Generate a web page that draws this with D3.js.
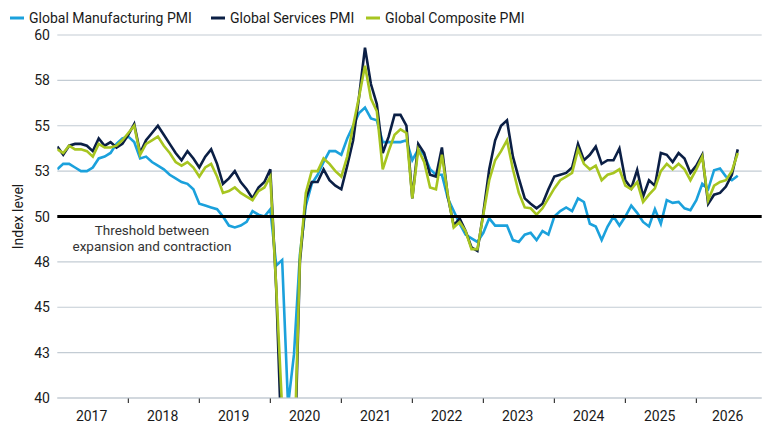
<!DOCTYPE html>
<html>
<head>
<meta charset="utf-8">
<script src="https://cdn.jsdelivr.net/npm/d3@7"></script>
<style>
  body { margin: 0; background: #fff; }
  text { font-family: Roboto, "Liberation Sans", sans-serif; fill: #1a1a1a; }
</style>
</head>
<body>
<svg id="chart" width="780" height="439"></svg>
<script>
// monthly values, Jan 2017 onwards
const manufacturing = [
  52.6,52.9,52.9,52.7,52.5,52.5,52.7,53.2,53.3,53.5,54.0,54.3,
  54.4,54.1,53.2,53.3,53.0,52.8,52.6,52.3,52.1,51.9,51.8,51.5,
  50.7,50.6,50.5,50.4,50.0,49.5,49.4,49.5,49.7,50.3,50.1,50.0,
  50.4,47.3,47.6,39.6,42.4,47.9,50.6,51.8,52.3,53.0,53.6,53.6,
  53.4,54.3,55.0,55.7,56.0,55.4,55.3,54.1,54.1,54.1,54.1,54.2,
  53.1,53.7,53.4,52.6,52.3,52.3,51.0,50.3,49.6,49.0,48.8,48.6,
  49.1,49.9,49.5,49.5,49.5,48.7,48.6,49.0,49.1,48.7,49.2,49.0,
  50.0,50.3,50.5,50.3,51.0,50.8,49.6,49.45,48.7,49.45,50.0,49.5,
  50.0,50.6,50.2,49.7,49.45,50.4,49.6,50.9,50.75,50.8,50.45,50.35,
  50.9,51.8,51.5,52.55,52.65,52.2,52.0,52.25
];
const services = [
  53.85,53.4,53.9,54.0,54.0,53.9,53.6,54.3,53.9,54.1,53.8,54.0,
  54.5,55.1,53.5,54.2,54.6,55.0,54.5,54.0,53.5,53.1,53.6,53.2,
  52.7,53.3,53.7,52.9,51.8,52.1,52.5,51.9,51.5,51.0,51.6,51.9,
  52.6,46.0,36.5,23.7,35.1,47.5,51.0,51.9,51.9,52.6,52.0,51.7,
  51.5,52.8,54.2,56.6,59.3,57.3,56.2,53.5,54.4,55.6,55.6,55.0,
  51.0,54.0,53.5,52.3,52.2,53.8,51.1,49.5,49.9,49.2,48.3,48.1,
  50.2,52.6,54.2,55.0,55.3,53.3,52.1,51.0,50.7,50.45,50.7,51.5,
  52.2,52.3,52.4,52.7,54.0,53.1,53.4,53.85,52.9,53.1,53.1,53.75,
  52.0,51.55,52.56,51.1,52.0,51.7,53.5,53.4,53.0,53.5,53.2,52.4,
  52.8,53.4,50.7,51.2,51.3,51.65,52.3,53.7
];
const composite = [
  53.7,53.5,53.9,53.7,53.7,53.6,53.3,54.0,53.8,53.8,53.9,54.2,
  54.6,55.0,53.4,54.0,54.2,54.4,53.9,53.5,53.0,52.8,53.0,52.7,
  52.2,52.7,52.9,52.2,51.3,51.4,51.6,51.3,51.1,50.9,51.4,51.6,
  52.2,46.1,39.4,26.2,36.3,47.7,51.3,52.5,52.5,53.2,52.9,52.5,
  52.2,53.3,55.0,56.6,58.3,56.5,55.8,52.6,53.6,54.5,54.8,54.6,
  51.0,53.7,53.0,51.6,51.5,53.4,51.2,49.4,49.7,49.2,48.2,48.2,
  50.1,52.0,53.1,53.6,54.2,52.6,51.3,50.5,50.45,50.1,50.45,51.0,
  51.55,52.0,52.2,52.4,53.7,52.9,52.6,52.8,52.0,52.3,52.4,52.6,
  51.7,51.5,51.9,50.8,51.2,51.55,52.5,52.9,52.6,52.9,52.6,52.0,
  52.6,53.3,50.9,51.7,51.9,52.0,52.5,53.5
];
const years = [2017,2018,2019,2020,2021,2022,2023,2024,2025,2026];
const yTicks = [40,42.5,45,47.5,50,52.5,55,57.5,60];
const seriesNames = ["Global Manufacturing PMI","Global Services PMI","Global Composite PMI"];
const seriesColors = ["#1ba1dc","#0b1f45","#a7c520"];

const svg = d3.select("#chart");
const pLeft = 57.3, pRight = 761.7, pTop = 35, pBottom = 398;

const x = d3.scaleLinear().domain([0, 120]).range([pLeft, pLeft + 120 * 5.917]);
const y = d3.scaleLinear().domain([40, 60]).range([pBottom, pTop]);

svg.append("defs").append("clipPath").attr("id", "plot")
  .append("rect").attr("x", pLeft).attr("y", pTop - 2)
  .attr("width", pRight - pLeft).attr("height", pBottom - pTop + 2);

// gridlines
svg.append("g").selectAll("line").data(yTicks.filter(d => d !== 50)).join("line")
  .attr("x1", pLeft).attr("x2", pRight)
  .attr("y1", d => y(d)).attr("y2", d => y(d))
  .attr("stroke", "#c3ccd4").attr("stroke-width", 1.2);

// y labels
svg.append("g").selectAll("text").data(yTicks).join("text")
  .attr("x", 50).attr("y", d => y(d) + 5)
  .attr("text-anchor", "end").attr("font-size", 14)
  .text(d => d3.format(".0f")(d));

svg.append("text")
  .attr("transform", `translate(23,${(pTop + pBottom) / 2}) rotate(-90)`)
  .attr("text-anchor", "middle").attr("font-size", 14)
  .text("Index level");

// x year ticks and labels
svg.append("g").selectAll("line").data(years.slice(1)).join("line")
  .attr("x1", (d, i) => x((i + 1) * 12)).attr("x2", (d, i) => x((i + 1) * 12))
  .attr("y1", pBottom).attr("y2", pBottom + 5)
  .attr("stroke", "#111").attr("stroke-width", 1);
svg.append("g").selectAll("text").data(years).join("text")
  .attr("x", (d, i) => i === 9 ? x(113.3) : x(i * 12 + 5.8))
  .attr("y", 421).attr("text-anchor", "middle").attr("font-size", 14)
  .text(d => d);

// lines
const line = d3.line().x((d, i) => x(i)).y(d => y(d));
const plot = svg.append("g").attr("clip-path", "url(#plot)");
[manufacturing, services, composite].forEach((s, k) => {
  plot.append("path").datum(s)
    .attr("d", line).attr("fill", "none")
    .attr("stroke", seriesColors[k]).attr("stroke-width", 2.6)
    .attr("stroke-linejoin", "miter");
});

// threshold line
svg.append("line")
  .attr("x1", pLeft).attr("x2", pRight).attr("y1", y(50)).attr("y2", y(50))
  .attr("stroke", "#000").attr("stroke-width", 3);
svg.append("text").attr("x", 152).attr("y", 235).attr("text-anchor", "middle")
  .attr("font-size", 13.5).style("fill", "#333").text("Threshold between");
svg.append("text").attr("x", 152).attr("y", 251).attr("text-anchor", "middle")
  .attr("font-size", 13.5).style("fill", "#333").text("expansion and contraction");

// bottom axis
svg.append("line").attr("x1", pLeft).attr("x2", pRight)
  .attr("y1", pBottom).attr("y2", pBottom)
  .attr("stroke", "#c3ccd4").attr("stroke-width", 1.2);

// legend
const legX = [10, 211, 366];
const leg = svg.append("g").selectAll("g").data(seriesNames).join("g")
  .attr("transform", (d, i) => `translate(${legX[i]},18)`);
leg.append("line").attr("x1", 0).attr("x2", 14).attr("y1", 0).attr("y2", 0)
  .attr("stroke", (d, i) => seriesColors[i]).attr("stroke-width", 3);
leg.append("text").attr("x", 19).attr("y", 5).attr("font-size", 14).text(d => d);
</script>
</body>
</html>
